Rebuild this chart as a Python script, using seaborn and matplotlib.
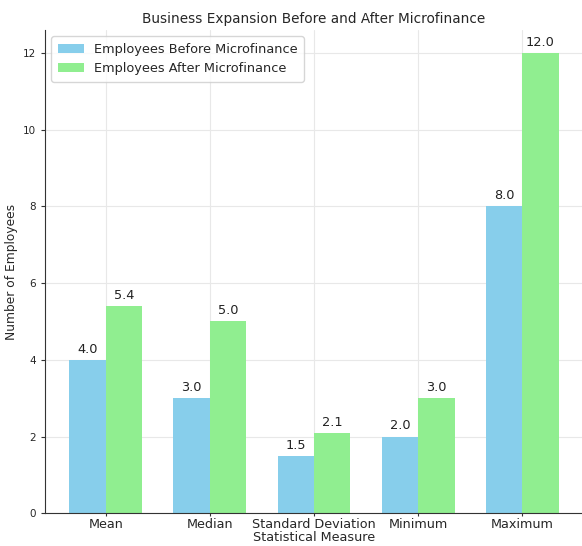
import matplotlib
matplotlib.use("Agg")
import matplotlib.pyplot as plt
import seaborn as sns
import pandas as pd

categories = ["Mean", "Median", "Standard Deviation", "Minimum", "Maximum"]
before = [4.0, 3.0, 1.5, 2.0, 8.0]
after = [5.4, 5.0, 2.1, 3.0, 12.0]
series_names = ["Employees Before Microfinance", "Employees After Microfinance"]

df = pd.DataFrame({
    "Statistical Measure": categories * 2,
    "value": before + after,
    "series": [series_names[0]] * len(categories) + [series_names[1]] * len(categories),
})

sns.set_style("white")
plt.rcParams["font.family"] = ["DejaVu Sans"]

fig = plt.figure(figsize=(5.82, 5.46), dpi=100)
ax = fig.add_axes([0.077, 0.06, 0.925, 0.885])

sns.barplot(data=df, x="Statistical Measure", y="value", hue="series",
            palette=["#87CEEB", "#90EE90"], width=0.7, ax=ax, saturation=1,
            errorbar=None, linewidth=0, edgecolor="none")

for cont in ax.containers:
    ax.bar_label(cont, fmt="%.1f", padding=3, fontsize=9.3, color="#222222")

ax.set_xlim(-0.585, 4.585)
ax.set_ylim(0, 12.6)
ax.set_yticks([0, 2, 4, 6, 8, 10, 12])
ax.grid(True, color="#e8e8e8", linewidth=0.8)
ax.set_axisbelow(True)
for s in ["top", "right"]:
    ax.spines[s].set_visible(False)
for s in ["left", "bottom"]:
    ax.spines[s].set_color("#333333")
    ax.spines[s].set_linewidth(0.8)
ax.tick_params(axis="x", labelsize=9.2, length=2, pad=1.5, color="#333333", bottom=True)
ax.tick_params(axis="y", labelsize=7.5, length=3, color="#333333", left=True)
ax.set_title("Business Expansion Before and After Microfinance", fontsize=9.8, pad=5)
ax.set_xlabel("Statistical Measure", fontsize=9.2, labelpad=0)
ax.set_ylabel("Number of Employees", fontsize=8.8, labelpad=3)
ax.legend(loc="upper left", fontsize=9.3, frameon=True, title=None,
          borderpad=0.5, handlelength=2.0, bbox_to_anchor=(0.0, 1.0))

fig.savefig("out.png", dpi=100)
